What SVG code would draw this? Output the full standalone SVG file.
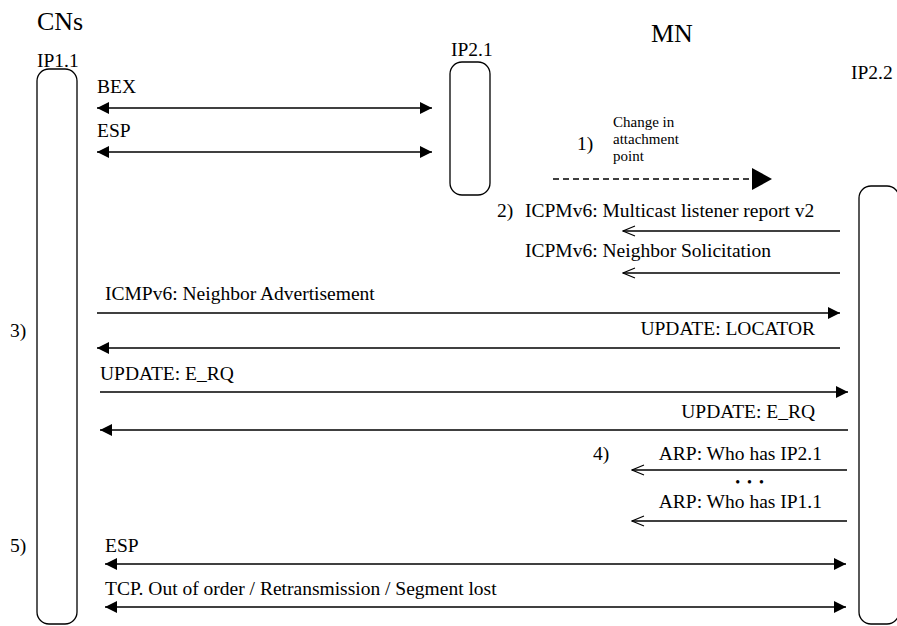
<svg xmlns="http://www.w3.org/2000/svg" width="897" height="626" viewBox="0 0 897 626">
<style>
text{font-size:19.5px;fill:#000}
.s{font-size:15px}
.h{font-size:26px}
.e{text-anchor:end}
.box{fill:none;stroke:#000;stroke-width:1.3}
.ln{stroke:#000;stroke-width:1.4;fill:none}
.dash{stroke-dasharray:6 4}
</style>
<defs>
<marker id="fa" viewBox="0 0 12 12" refX="12" refY="6" markerWidth="12" markerHeight="12" markerUnits="userSpaceOnUse" orient="auto-start-reverse"><path d="M0,0 L12,6 L0,12 z" fill="#000"/></marker>
<marker id="oa" viewBox="-1 -1 14 12" refX="12" refY="5" markerWidth="14" markerHeight="12" markerUnits="userSpaceOnUse" orient="auto"><path d="M0,0 L12,5 L0,10" fill="none" stroke="#000" stroke-width="1.1"/></marker>
<marker id="ba" viewBox="0 0 20 22" refX="20" refY="11" markerWidth="20" markerHeight="22" markerUnits="userSpaceOnUse" orient="auto"><path d="M0,0 L20,11 L0,22 z" fill="#000"/></marker>
</defs>
<rect width="897" height="626" fill="#fff"/>
<g font-family="Liberation Serif, DejaVu Serif, serif">
<g id="cn">
<text class="h" x="37" y="30">CNs</text>
<text x="37" y="67">IP1.1</text>
<rect class="box" x="37" y="69" width="40" height="555" rx="12"/>
</g>
<g id="mn">
<text class="h" x="651" y="42">MN</text>
</g>
<g id="ip21">
<text x="451" y="56">IP2.1</text>
<rect class="box" x="450" y="62" width="40" height="133" rx="12"/>
</g>
<g id="ip22">
<text x="851" y="79">IP2.2</text>
<rect class="box" x="859" y="186" width="40" height="438" rx="12"/>
</g>
<g id="steps">
<text x="577" y="150">1)</text>
<text class="s" x="613" y="127">Change in</text>
<text class="s" x="613" y="144">attachment</text>
<text class="s" x="613" y="161">point</text>
<text x="497" y="217">2)</text>
<text x="10" y="337">3)</text>
<text x="593" y="460">4)</text>
<text x="10" y="552">5)</text>
</g>
<g id="connectors">
<text x="97" y="93">BEX</text>
<line class="ln" x1="97" y1="108" x2="432" y2="108" marker-start="url(#fa)" marker-end="url(#fa)"/>
<text x="97" y="137">ESP</text>
<line class="ln" x1="97" y1="152" x2="432" y2="152" marker-start="url(#fa)" marker-end="url(#fa)"/>
<line class="ln dash" x1="553" y1="179" x2="772" y2="179" marker-end="url(#ba)"/>
<text x="525" y="217">ICPMv6: Multicast listener report v2</text>
<line class="ln" x1="840" y1="231" x2="623" y2="231" marker-end="url(#oa)"/>
<text x="525" y="257">ICPMv6: Neighbor Solicitation</text>
<line class="ln" x1="840" y1="273" x2="623" y2="273" marker-end="url(#oa)"/>
<text x="105" y="300">ICMPv6: Neighbor Advertisement</text>
<line class="ln" x1="97" y1="313" x2="840" y2="313" marker-end="url(#fa)"/>
<text class="e" x="815" y="335">UPDATE: LOCATOR</text>
<line class="ln" x1="840" y1="348" x2="97" y2="348" marker-end="url(#fa)"/>
<text x="100" y="380">UPDATE: E_RQ</text>
<line class="ln" x1="100" y1="392" x2="848" y2="392" marker-end="url(#fa)"/>
<text class="e" x="815" y="418">UPDATE: E_RQ</text>
<line class="ln" x1="848" y1="430" x2="100" y2="430" marker-end="url(#fa)"/>
<text class="e" x="822" y="460">ARP: Who has IP2.1</text>
<line class="ln" x1="847" y1="470" x2="632" y2="470" marker-end="url(#oa)"/>
<text x="753" y="487" style="font-size:14px;letter-spacing:7px;text-anchor:middle">•••</text>
<text class="e" x="822" y="508">ARP: Who has IP1.1</text>
<line class="ln" x1="847" y1="521" x2="632" y2="521" marker-end="url(#oa)"/>
<text x="105" y="552">ESP</text>
<line class="ln" x1="105" y1="564" x2="846" y2="564" marker-start="url(#fa)" marker-end="url(#fa)"/>
<text x="105" y="595">TCP. Out of order / Retransmission / Segment lost</text>
<line class="ln" x1="105" y1="607" x2="846" y2="607" marker-start="url(#fa)" marker-end="url(#fa)"/>
</g>
</g>
</svg>
